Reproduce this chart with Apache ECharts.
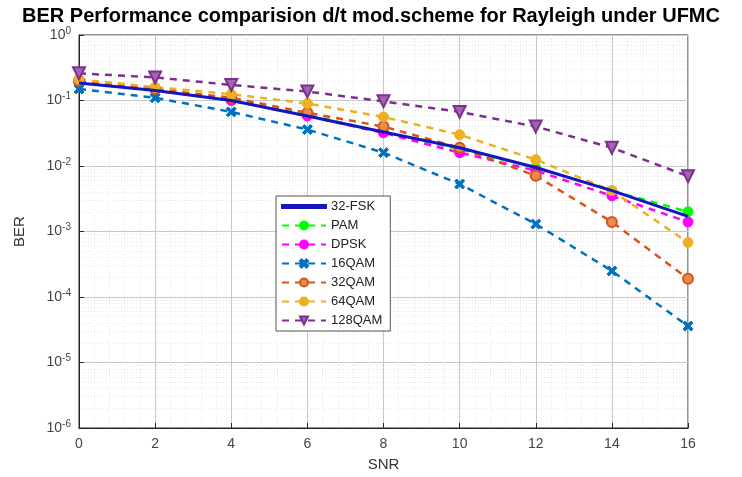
<!DOCTYPE html>
<html><head><meta charset="utf-8">
<script src="https://cdn.jsdelivr.net/npm/echarts@6/dist/echarts.min.js"></script>
<style>html,body{margin:0;padding:0;background:#fff}#c{width:742px;height:477px}</style>
</head><body><div id="c"></div>
<script>
const snr = [0, 2, 4, 6, 8, 10, 12, 14, 16];
const fsk32  = [0.185, 0.142, 0.100, 0.058, 0.033, 0.019, 0.0095, 0.0042, 0.0017];
const pam    = [0.19, 0.145, 0.100, 0.060, 0.033, 0.018, 0.0095, 0.0042, 0.0020];
const dpsk   = [0.19, 0.145, 0.100, 0.058, 0.032, 0.016, 0.0085, 0.0035, 0.0014];
const qam16  = [0.15, 0.11, 0.067, 0.036, 0.016, 0.0053, 0.0013, 0.00025, 0.000036];
const qam32  = [0.20, 0.15, 0.11, 0.065, 0.040, 0.019, 0.0071, 0.0014, 0.00019];
const qam64  = [0.21, 0.16, 0.125, 0.090, 0.056, 0.030, 0.0125, 0.0042, 0.00068];
const qam128 = [0.26, 0.225, 0.173, 0.137, 0.097, 0.067, 0.040, 0.019, 0.007];
const names = ['32-FSK','PAM','DPSK','16QAM','32QAM','64QAM','128QAM'];
const xTicks = [0,2,4,6,8,10,12,14,16];
const yExp = [0,-1,-2,-3,-4,-5,-6];

const xPath = 'path://M2,0L5,3L8,0L10,2L7,5L10,8L8,10L5,7L2,10L0,8L3,5L0,2Z';
const pair = a => a.map((v,i)=>[snr[i], v]);
function ser(name, data, color, symbol, dashed, opts) {
  return Object.assign({
    name, type:'line', data: pair(data), symbol, symbolSize: 10,
    lineStyle:{color, width: dashed?2.5:3, type: dashed?[7,6]:'solid'},
    itemStyle:{color, borderColor: color, borderWidth:1},
    showSymbol: symbol !== 'none', z: 3
  }, opts||{});
}
const legendData = names.map((n,i)=> i===0 ? {name:n, icon:'path://M0,0H44V3H0Z'} : {name:n});
const chart = echarts.init(document.getElementById('c'));
chart.setOption({
  animation:false,
  title:{text:'BER Performance comparision d/t mod.scheme for Rayleigh under UFMC', left:'center', top:1,
    textStyle:{fontFamily:'Liberation Sans, Arial', fontWeight:'bold', fontSize:20, color:'#000'}},
  grid:{left:79, right:54, top:35, bottom:44, show:true, borderColor:'#262626', borderWidth:1},
  xAxis:{type:'value', min:0, max:16, interval:2,
    name:'SNR', nameLocation:'middle', nameGap:29, nameTextStyle:{fontFamily:'Liberation Sans, Arial', fontSize:15, color:'#333'},
    axisLine:{lineStyle:{color:'#262626'}}, axisTick:{inside:true, length:5, lineStyle:{color:'#262626'}},
    axisLabel:{fontFamily:'Liberation Sans, Arial', fontSize:14, color:'#444', margin:9, formatter:v=>xTicks.includes(v)?String(v):''},
    splitLine:{show:true, lineStyle:{color:'#c8c8c8', type:'solid', width:1}},
    minorTick:{show:false, splitNumber:5},
    minorSplitLine:{show:true, lineStyle:{color:'#e6e6e6', type:[1,2]}}},
  yAxis:{type:'log', logBase:10, min:1e-6, max:1,
    name:'BER', nameLocation:'middle', nameGap:52, nameTextStyle:{fontFamily:'Liberation Sans, Arial', fontSize:15, color:'#333'},
    axisLine:{show:true, lineStyle:{color:'#262626'}}, axisTick:{inside:true, length:5, lineStyle:{color:'#262626'}},
    axisLabel:{fontFamily:'Liberation Sans, Arial', margin:8, color:'#444',
      formatter: v => { const e = Math.round(Math.log10(v)); return yExp.includes(e) ? '{b|10}{s|' + e + '}' : ''; },
      rich:{b:{fontSize:14, color:'#444', fontFamily:'Liberation Sans, Arial'}, s:{fontSize:10, color:'#444', verticalAlign:'top', padding:[0,0,8,0], fontFamily:'Liberation Sans, Arial'}}},
    splitLine:{show:true, lineStyle:{color:'#c8c8c8', type:'solid'}},
    minorTick:{show:false, splitNumber:9},
    minorSplitLine:{show:true, lineStyle:{color:'#e6e6e6', type:[1,2]}}},
  legend:{orient:'vertical', left:276, top:196, itemWidth:44, itemHeight:10, itemGap:6,
    backgroundColor:'#fff', borderColor:'#555', borderWidth:1, padding:[4,8,4,5],
    textStyle:{fontFamily:'Liberation Sans, Arial', fontSize:13, color:'#222'}, data:legendData},
  series:[
    ser(names[0], fsk32, '#1515c0', 'none', false, {z:4}),
    ser(names[1], pam, '#00ff00', 'circle', true),
    ser(names[2], dpsk, '#ff00ff', 'circle', true),
    ser(names[3], qam16, '#0072bd', xPath, true),
    ser(names[4], qam32, '#d95319', 'circle', true, {itemStyle:{color:'#e88a50', borderColor:'#d95319', borderWidth:2}}),
    ser(names[5], qam64, '#edb120', 'circle', true),
    ser(names[6], qam128, '#7e2f8e', 'triangle', true, {symbolRotate:180, symbolSize:12, itemStyle:{color:'#a066b0', borderColor:'#7e2f8e', borderWidth:2}})
  ]
});
</script></body></html>
